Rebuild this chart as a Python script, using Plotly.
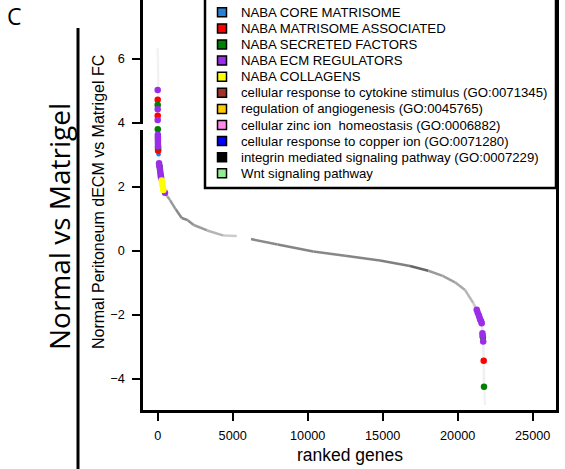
import plotly.graph_objects as go

# ---------------- data ----------------
categories = [
    "NABA CORE MATRISOME",
    "NABA MATRISOME ASSOCIATED",
    "NABA SECRETED FACTORS",
    "NABA ECM REGULATORS",
    "NABA COLLAGENS",
    "cellular response to cytokine stimulus (GO:0071345)",
    "regulation of angiogenesis (GO:0045765)",
    "cellular zinc ion  homeostasis (GO:0006882)",
    "cellular response to copper ion (GO:0071280)",
    "integrin mediated signaling pathway (GO:0007229)",
    "Wnt signaling pathway",
]

# ranked-gene curve (two pieces, gap between them)
curve_a_rank = [0, 15, 30, 45, 60, 90, 150, 270, 380, 490, 650, 820, 1200, 1600, 2000, 2400, 3300, 4400, 5270]
curve_a_fc = [6.35, 5.95, 5.5, 5.05, 4.0, 2.75, 2.5, 2.17, 1.9, 1.8, 1.7, 1.59, 1.3, 1.03, 0.96, 0.81, 0.64, 0.48, 0.47]
curve_b_rank = [6220, 8000, 10370, 12500, 14820, 16820, 18040, 19000, 19820, 20490, 21040, 21270, 21450,
                21600, 21670, 21700, 21733, 21753, 21790, 21820]
curve_b_fc = [0.37, 0.2, -0.02, -0.15, -0.30, -0.47, -0.62, -0.78, -0.98, -1.22, -1.63, -1.84, -2.05,
              -2.26, -2.6, -2.83, -3.43, -4.24, -4.5, -4.81]

# highlighted genes: rank, fold change, category index
dot_rank = [0, 0, 0, 0, 0, 0, 5, 10, 12, 14, 16, 18, 20, 22, 25, 28, 60,
            90, 110, 130, 150, 170, 190, 210, 230, 267, 300, 340, 373, 487,
            21267, 21330, 21400, 21450, 21500, 21560, 21600, 21650, 21660, 21680, 21700, 21733, 21753]
dot_fc = [5.03, 4.72, 4.56, 4.43, 4.22, 4.09, 3.80, 3.63, 3.55, 3.48, 3.41, 3.34, 3.27, 3.24, 3.18, 3.13, 3.02,
          2.74, 2.66, 2.63, 2.55, 2.47, 2.40, 2.33, 2.28, 2.20, 2.10, 2.00, 1.90, 1.82,
          -1.84, -1.92, -2.0, -2.07, -2.14, -2.2, -2.26, -2.57, -2.65, -2.70, -2.83, -3.43, -4.24]
dot_cat = [3, 1, 2, 3, 1, 3, 2, 3, 3, 3, 3, 3, 3, 2, 1, 1, 0,
           3, 3, 2, 3, 3, 3, 2, 3, 4, 4, 4, 4, 3,
           3, 3, 3, 3, 3, 3, 3, 3, 3, 2, 3, 1, 2]

x_ticks = [0, 5000, 10000, 15000, 20000, 25000]
y_ticks = [-4, -2, 0, 2, 4, 6]

# ---------------- styles ----------------
cat_colors = ["#2a80d6", "#ff0000", "#008000", "#9b2de8", "#ffff00", "#a3322a",
              "#ffcc00", "#ff88ea", "#0000ff", "#000000", "#90ee90"]
shade_a = ["#f2f2f2"] * 9 + ["#a8a8a8", "#a0a0a0", "#999999", "#8a8a8a", "#858585", "#909090",
                             "#9c9c9c", "#b5b5b5", "#cccccc"]
shade_b = ["#8a8a8a", "#858585", "#888888", "#858585", "#808080", "#666666", "#9a9a9a", "#a0a0a0",
           "#a8a8a8", "#b8b8b8", "#cccccc", "#d4d4d4", "#dddddd", "#e6e6e6", "#ececec", "#eeeeee",
           "#f0f0f0", "#f2f2f2", "#f2f2f2"]

W, H = 565, 469
L, R, T, B = 143, 556, 0, 410


def px_x(p):
    return (p - L) / (R - L)


def px_y(p):
    return (B - p) / (B - T)


fig = go.Figure()


def add_curve(ranks, fcs, shades):
    for i in range(len(ranks) - 1):
        fig.add_trace(go.Scatter(
            x=[ranks[i], ranks[i + 1]], y=[fcs[i], fcs[i + 1]], mode="lines",
            line=dict(color=shades[i], width=2.5), hoverinfo="skip", showlegend=False))


add_curve(curve_a_rank, curve_a_fc, shade_a)
add_curve(curve_b_rank, curve_b_fc, shade_b)

for ci, name in enumerate(categories):
    xs = [r for r, c in zip(dot_rank, dot_cat) if c == ci]
    ys = [f for f, c in zip(dot_fc, dot_cat) if c == ci]
    if not xs:
        continue
    fig.add_trace(go.Scatter(
        x=xs, y=ys, mode="markers", name=name,
        marker=dict(color=cat_colors[ci], size=6.5 if ci != 0 else 4.5, line=dict(width=0)),
        showlegend=False))

shapes = []
annotations = []

# legend box
shapes.append(dict(type="rect", xref="paper", yref="paper",
                   x0=px_x(205), x1=px_x(556), y0=px_y(188), y1=px_y(-20),
                   line=dict(color="black", width=2.5), fillcolor="white", layer="above"))
for i, name in enumerate(categories):
    yc = 12.3 + 16.1 * i
    shapes.append(dict(type="rect", xref="paper", yref="paper",
                       x0=px_x(217.5), x1=px_x(226.5), y0=px_y(yc + 4.5), y1=px_y(yc - 4.5),
                       line=dict(color="black", width=1.5), fillcolor=cat_colors[i], layer="above"))
    annotations.append(dict(text=name, xref="paper", yref="paper", x=px_x(239), y=px_y(yc),
                            xanchor="left", yanchor="middle", showarrow=False,
                            font=dict(family="Liberation Sans, Arial", size=13.2, color="black")))

# small white break on y axis near 4
shapes.append(dict(type="rect", xref="paper", yref="paper",
                   x0=px_x(140), x1=px_x(146), y0=px_y(130), y1=px_y(124),
                   line=dict(width=0), fillcolor="white", layer="above"))

# big side label line
shapes.append(dict(type="line", xref="paper", yref="paper",
                   x0=px_x(78), x1=px_x(78), y0=px_y(28), y1=px_y(475),
                   line=dict(color="black", width=3)))

annotations += [
    dict(text="C", xref="paper", yref="paper", x=px_x(5), y=px_y(-2),
         xanchor="left", yanchor="top", showarrow=False,
         font=dict(family="Open Sans", size=23, color="black")),
    dict(text="Normal vs Matrigel", xref="paper", yref="paper", x=px_x(59), y=px_y(227),
         xanchor="center", yanchor="middle", textangle=-90, showarrow=False,
         font=dict(family="Open Sans", size=28, color="black")),
    dict(text="Normal Peritoneum dECM vs Matrigel FC", xref="paper", yref="paper",
         x=px_x(98), y=px_y(202), xanchor="center", yanchor="middle", textangle=-90,
         showarrow=False, font=dict(family="Liberation Sans, Arial", size=16, color="black")),
    dict(text="ranked genes", xref="paper", yref="paper", x=px_x(349.5), y=px_y(455),
         xanchor="center", yanchor="middle", showarrow=False,
         font=dict(family="Liberation Sans, Arial", size=17.5, color="black")),
]

fig.update_layout(
    width=W, height=H,
    margin=dict(l=L, r=W - R, t=T, b=H - B, pad=0),
    paper_bgcolor="white", plot_bgcolor="white",
    showlegend=False,
    shapes=shapes, annotations=annotations,
    xaxis=dict(range=[-980, 26553], tickvals=x_ticks, ticktext=[str(v) for v in x_ticks],
               ticks="outside", ticklen=8, tickwidth=2, tickcolor="black",
               showline=True, linewidth=2.5, linecolor="black", mirror=False,
               showgrid=False, zeroline=False, ticklabelstandoff=4,
               tickfont=dict(family="Liberation Sans, Arial", size=12.7, color="black")),
    yaxis=dict(range=[-4.97, 7.84], tickvals=y_ticks, ticktext=["\u22124", "\u22122", "0", "2", "4", "6"],
               ticks="outside", ticklen=8, tickwidth=2, tickcolor="black",
               showline=True, linewidth=2.5, linecolor="black", mirror=True,
               showgrid=False, zeroline=False, ticklabelstandoff=5,
               tickfont=dict(family="Liberation Sans, Arial", size=12.7, color="black")),
)

fig.write_html("out.html")
